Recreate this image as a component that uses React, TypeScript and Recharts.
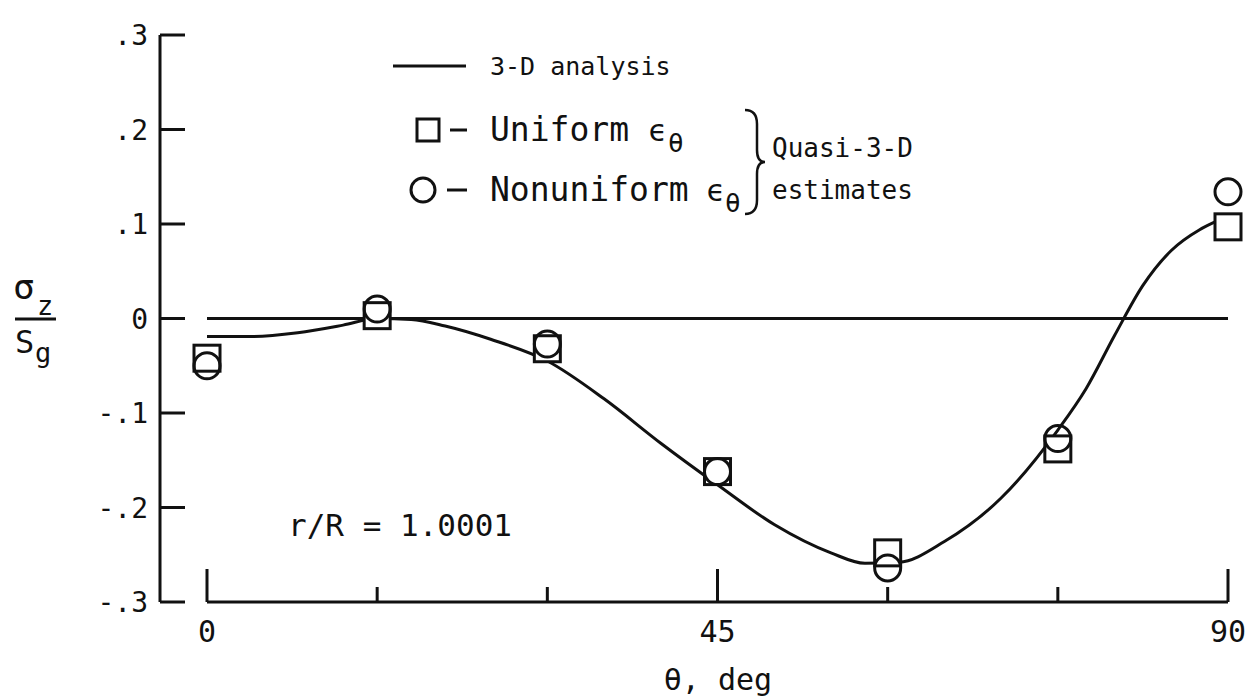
import React from "react";
import {
  ComposedChart,
  Line,
  Scatter,
  XAxis,
  YAxis,
  ReferenceLine,
} from "recharts";

// axis ticks
const thetaTicks = [0, 15, 30, 45, 60, 75, 90];
const labeledTheta = [0, 45, 90];
const stressTicks = [-0.3, -0.2, -0.1, 0, 0.1, 0.2, 0.3];
const stressTickLabels = ["-.3", "-.2", "-.1", "0", ".1", ".2", ".3"];

// 3-D analysis curve, sigma_z / S_g against theta (deg)
const analysisTheta = [0, 4, 8, 12, 15, 18, 21, 25, 30, 35, 40, 45, 50, 55, 58, 61, 65, 70, 75, 77.5, 80, 82.5, 85, 87.5, 89];
const analysisStress = [-0.019, -0.019, -0.015, -0.007, 0.0, -0.001, -0.008, -0.022, -0.045, -0.085, -0.132, -0.176, -0.218, -0.248, -0.259, -0.258, -0.236, -0.19, -0.118, -0.074, -0.018, 0.035, 0.072, 0.094, 0.103];

// quasi-3-D estimates
const markerTheta = [0, 15, 30, 45, 60, 75, 90];
const uniformStress = [-0.042, 0.003, -0.032, -0.162, -0.248, -0.138, 0.097];
const nonuniformStress = [-0.05, 0.01, -0.027, -0.162, -0.264, -0.127, 0.134];

const analysisData = analysisTheta.map((theta, i) => ({ theta, stress: analysisStress[i] }));
const uniformData = markerTheta.map((theta, i) => ({ theta, stress: uniformStress[i] }));
const nonuniformData = markerTheta.map((theta, i) => ({ theta, stress: nonuniformStress[i] }));

const INK = "#111";
const FONT = "'DejaVu Sans Mono', 'Liberation Mono', monospace";

const ThetaTick = (props: any) => {
  const { x, y, payload } = props;
  const labeled = labeledTheta.includes(payload.value);
  const len = labeled ? 33 : 15;
  return (
    <g>
      <line x1={x} y1={y} x2={x} y2={y - len} stroke={INK} strokeWidth={3} />
      {labeled && (
        <text x={x} y={y + 40} textAnchor="middle" fontSize={30} fontFamily={FONT} fill={INK}>
          {payload.value}
        </text>
      )}
    </g>
  );
};

const StressTick = (props: any) => {
  const { x, y, payload } = props;
  const idx = stressTicks.indexOf(payload.value);
  return (
    <g>
      <line x1={x} y1={y} x2={x + 25} y2={y} stroke={INK} strokeWidth={3} />
      <text x={x - 12} y={y + 10} textAnchor="end" fontSize={28} fontFamily={FONT} fill={INK}>
        {idx >= 0 ? stressTickLabels[idx] : payload.value}
      </text>
    </g>
  );
};

const SquareMark = (props: any) => {
  const { cx, cy } = props;
  return <rect x={cx - 13} y={cy - 13} width={26} height={26} fill="#fff" stroke={INK} strokeWidth={3} />;
};

const CircleMark = (props: any) => {
  const { cx, cy } = props;
  return <circle cx={cx} cy={cy} r={13} fill="none" stroke={INK} strokeWidth={3} />;
};

const Annotations = () => (
  <svg
    width={1247}
    height={697}
    style={{ position: "absolute", left: 0, top: 0, pointerEvents: "none" }}
    fontFamily={FONT}
    fill={INK}
  >
    {/* y axis title as a fraction */}
    <text x={13} y={299} fontSize={36}>σ</text>
    <text x={37} y={315} fontSize={27}>z</text>
    <line x1={15} y1={319} x2={56} y2={319} stroke={INK} strokeWidth={3} />
    <text x={15} y={353} fontSize={32}>S</text>
    <text x={35} y={362} fontSize={27}>g</text>

    {/* x axis title */}
    <text x={718} y={690} textAnchor="middle" fontSize={30}>θ, deg</text>

    {/* legend */}
    <line x1={393} y1={66} x2={466} y2={66} stroke={INK} strokeWidth={3} />
    <text x={490} y={75} fontSize={25}>3-D analysis</text>

    <rect x={417} y={119} width={22} height={22} fill="none" stroke={INK} strokeWidth={3} />
    <line x1={450} y1={130} x2={467} y2={130} stroke={INK} strokeWidth={3} />
    <text x={490} y={141} fontSize={33}>Uniform</text>
    <text x={648} y={141} fontSize={30}>ϵ</text>
    <text x={668} y={152} fontSize={26}>θ</text>

    <circle cx={423} cy={190} r={12} fill="none" stroke={INK} strokeWidth={3} />
    <line x1={447} y1={190} x2={467} y2={190} stroke={INK} strokeWidth={3} />
    <text x={490} y={201} fontSize={33}>Nonuniform</text>
    <text x={706} y={201} fontSize={30}>ϵ</text>
    <text x={725} y={212} fontSize={26}>θ</text>

    <path
      d="M 745 110 Q 757 110 757 124 L 757 150 Q 757 162 765 162 Q 757 162 757 174 L 757 200 Q 757 214 745 214"
      fill="none"
      stroke={INK}
      strokeWidth={2.5}
    />
    <text x={772} y={157} fontSize={26}>Quasi-3-D</text>
    <text x={772} y={199} fontSize={26}>estimates</text>

    <text x={288} y={536} fontSize={31}>r/R = 1.0001</text>
  </svg>
);

export default function App() {
  return (
    <div style={{ position: "absolute", left: 0, top: 0, width: 1247, height: 697, background: "#fff" }}>
      <ComposedChart width={1247} height={697} margin={{ top: 35, right: 19, bottom: 0, left: 0 }}>
        <XAxis
          dataKey="theta"
          type="number"
          domain={[0, 90]}
          ticks={thetaTicks}
          interval={0}
          padding={{ left: 47, right: 0 }}
          axisLine={false}
          tickLine={false}
          tickSize={0}
          tickMargin={0}
          tick={(p: any) => <ThetaTick {...p} />}
          height={95}
        />
        <YAxis
          dataKey="stress"
          type="number"
          domain={[-0.3, 0.3]}
          ticks={stressTicks}
          interval={0}
          width={160}
          axisLine={{ stroke: INK, strokeWidth: 3 }}
          tickLine={false}
          tickSize={0}
          tickMargin={0}
          tick={(p: any) => <StressTick {...p} />}
        />
        <ReferenceLine segment={[{ x: 0, y: -0.3 }, { x: 90, y: -0.3 }]} stroke={INK} strokeWidth={3} />
        <ReferenceLine segment={[{ x: 0, y: 0 }, { x: 90, y: 0 }]} stroke={INK} strokeWidth={3} />
        <Line
          data={analysisData}
          dataKey="stress"
          type="monotone"
          stroke={INK}
          strokeWidth={3}
          dot={false}
          isAnimationActive={false}
        />
        <Scatter data={uniformData} dataKey="stress" shape={SquareMark} isAnimationActive={false} />
        <Scatter data={nonuniformData} dataKey="stress" shape={CircleMark} isAnimationActive={false} />
      </ComposedChart>
      <Annotations />
    </div>
  );
}
